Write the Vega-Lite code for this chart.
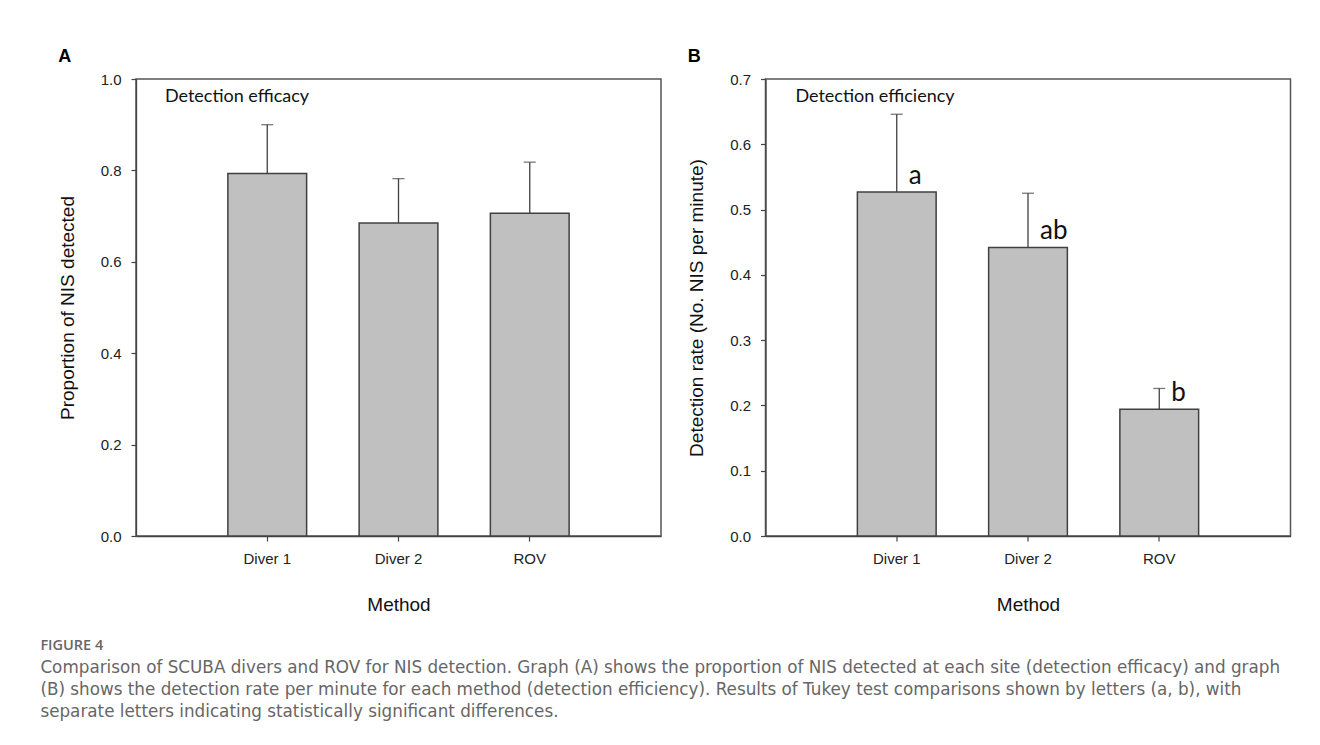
{
  "$schema": "https://vega.github.io/schema/vega-lite/v6.json",
  "background": "white",
  "padding": {"left": 40, "top": 46, "right": 10, "bottom": 10},
  "datasets": {
    "a": [
      {"method": "Diver 1", "mean": 0.793, "upper": 0.900, "letter": ""},
      {"method": "Diver 2", "mean": 0.685, "upper": 0.782, "letter": ""},
      {"method": "ROV", "mean": 0.706, "upper": 0.818, "letter": ""}
    ],
    "b": [
      {"method": "Diver 1", "mean": 0.527, "upper": 0.646, "letter": "a"},
      {"method": "Diver 2", "mean": 0.442, "upper": 0.525, "letter": "ab"},
      {"method": "ROV", "mean": 0.194, "upper": 0.226, "letter": "b"}
    ],
    "notes": [
      {"panel": "A", "method": "Diver 1", "pos": 0.949, "note": "Detection efficacy"},
      {"panel": "B", "method": "Diver 1", "pos": 0.6645, "note": "Detection efficiency"}
    ]
  },
  "title": {
    "text": "FIGURE 4",
    "subtitle": [
      "Comparison of SCUBA divers and ROV for NIS detection. Graph (A) shows the proportion of NIS detected at each site (detection efficacy) and graph",
      "(B) shows the detection rate per minute for each method (detection efficiency). Results of Tukey test comparisons shown by letters (a, b), with",
      "separate letters indicating statistically significant differences."
    ],
    "orient": "bottom",
    "anchor": "start",
    "frame": "bounds",
    "dx": -17,
    "offset": 24,
    "font": "Open Sans",
    "fontSize": 14.5,
    "fontWeight": 600,
    "color": "#666666",
    "subtitleFont": "DejaVu Sans",
    "subtitleFontSize": 16.8,
    "subtitleColor": "#666666",
    "subtitleLineHeight": 21.7,
    "subtitlePadding": 7
  },
  "spacing": 24.5,
  "hconcat": [
    {
      "width": 525,
      "height": 457,
      "title": {"text": "A", "anchor": "start", "frame": "bounds", "font": "Liberation Sans", "fontSize": 18, "fontWeight": "bold", "color": "#000000", "offset": 6.5},
      "layer": [
        {
          "data": {"name": "a"},
          "mark": {"type": "bar", "fill": "#c0c0c0", "stroke": "#404040", "strokeWidth": 1.5},
          "encoding": {
            "x": {"field": "method", "type": "nominal", "sort": ["Diver 1", "Diver 2", "ROV"], "scale": {"paddingInner": 0.4, "paddingOuter": 0.7}, "axis": {"labelAngle": 0, "title": "Method"}},
            "y": {"field": "mean", "type": "quantitative", "scale": {"domain": [0, 1]}, "axis": {"values": [0, 0.2, 0.4, 0.6, 0.8, 1.0], "format": ".1f", "title": "Proportion of NIS detected"}}
          }
        },
        {
          "data": {"name": "a"},
          "mark": {"type": "rule", "color": "#404040", "strokeWidth": 1.3},
          "encoding": {
            "x": {"field": "method", "type": "nominal", "sort": ["Diver 1", "Diver 2", "ROV"]},
            "y": {"field": "mean", "type": "quantitative"},
            "y2": {"field": "upper"}
          }
        },
        {
          "data": {"name": "a"},
          "mark": {"type": "tick", "color": "#404040", "size": 12, "thickness": 1.3},
          "encoding": {
            "x": {"field": "method", "type": "nominal", "sort": ["Diver 1", "Diver 2", "ROV"]},
            "y": {"field": "upper", "type": "quantitative"}
          }
        },
        {
          "data": {"name": "notes"},
          "transform": [{"filter": "datum.panel === 'A'"}],
          "mark": {"type": "text", "align": "left", "baseline": "alphabetic", "font": "Lato", "fontSize": 18, "color": "#111111", "dx": -63},
          "encoding": {
            "x": {"field": "method", "type": "nominal", "sort": ["Diver 1", "Diver 2", "ROV"], "bandPosition": 0},
            "y": {"field": "pos", "type": "quantitative"},
            "text": {"field": "note"}
          }
        }
      ]
    },
    {
      "width": 525,
      "height": 457,
      "title": {"text": "B", "anchor": "start", "frame": "bounds", "font": "Liberation Sans", "fontSize": 18, "fontWeight": "bold", "color": "#000000", "offset": 6.5},
      "layer": [
        {
          "data": {"name": "b"},
          "mark": {"type": "bar", "fill": "#c0c0c0", "stroke": "#404040", "strokeWidth": 1.5},
          "encoding": {
            "x": {"field": "method", "type": "nominal", "sort": ["Diver 1", "Diver 2", "ROV"], "scale": {"paddingInner": 0.4, "paddingOuter": 0.7}, "axis": {"labelAngle": 0, "title": "Method"}},
            "y": {"field": "mean", "type": "quantitative", "scale": {"domain": [0, 0.7]}, "axis": {"values": [0, 0.1, 0.2, 0.3, 0.4, 0.5, 0.6, 0.7], "format": ".1f", "title": "Detection rate (No. NIS per minute)"}}
          }
        },
        {
          "data": {"name": "b"},
          "mark": {"type": "rule", "color": "#404040", "strokeWidth": 1.3},
          "encoding": {
            "x": {"field": "method", "type": "nominal", "sort": ["Diver 1", "Diver 2", "ROV"]},
            "y": {"field": "mean", "type": "quantitative"},
            "y2": {"field": "upper"}
          }
        },
        {
          "data": {"name": "b"},
          "mark": {"type": "tick", "color": "#404040", "size": 12, "thickness": 1.3},
          "encoding": {
            "x": {"field": "method", "type": "nominal", "sort": ["Diver 1", "Diver 2", "ROV"]},
            "y": {"field": "upper", "type": "quantitative"}
          }
        },
        {
          "data": {"name": "b"},
          "mark": {"type": "text", "align": "left", "baseline": "alphabetic", "font": "Lato", "fontSize": 26, "color": "#111111", "dx": 12, "dy": -8},
          "encoding": {
            "x": {"field": "method", "type": "nominal", "sort": ["Diver 1", "Diver 2", "ROV"]},
            "y": {"field": "mean", "type": "quantitative"},
            "text": {"field": "letter"}
          }
        },
        {
          "data": {"name": "notes"},
          "transform": [{"filter": "datum.panel === 'B'"}],
          "mark": {"type": "text", "align": "left", "baseline": "alphabetic", "font": "Lato", "fontSize": 18, "color": "#111111", "dx": -62},
          "encoding": {
            "x": {"field": "method", "type": "nominal", "sort": ["Diver 1", "Diver 2", "ROV"], "bandPosition": 0},
            "y": {"field": "pos", "type": "quantitative"},
            "text": {"field": "note"}
          }
        }
      ]
    }
  ],
  "config": {
    "view": {"stroke": "#555555", "strokeWidth": 1.5},
    "axis": {
      "grid": false,
      "domainColor": "#444444",
      "domainWidth": 1.3,
      "tickColor": "#444444",
      "tickWidth": 1.2,
      "tickSize": 5,
      "labelFont": "Liberation Sans",
      "labelFontSize": 15,
      "labelColor": "#222222",
      "labelPadding": 10,
      "titleFont": "Liberation Sans",
      "titleFontSize": 19,
      "titleFontWeight": "normal",
      "titleColor": "#111111"
    },
    "axisY": {"titlePadding": 23},
    "axisX": {"labelPadding": 10, "titlePadding": 29}
  }
}
